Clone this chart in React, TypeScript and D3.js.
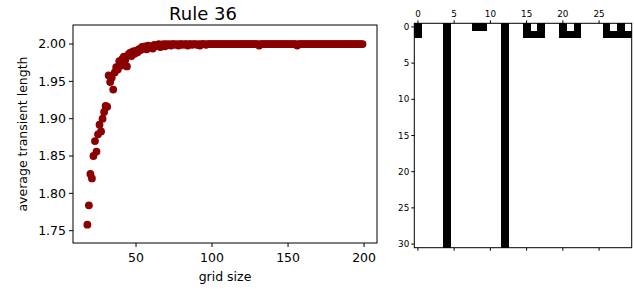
import * as d3 from "d3";

// grid sizes 18..199, one run per size
const gridSizes: number[] = d3.range(18, 200);

const avgTransient: number[] = [
  // 18 - 31
  1.758, 1.784, 1.826, 1.82, 1.85, 1.87, 1.856, 1.879, 1.892, 1.883, 1.9, 1.909, 1.917, 1.916,
  // 32 - 49
  1.958, 1.949, 1.955, 1.939, 1.962, 1.969, 1.966, 1.977, 1.971, 1.98, 1.983, 1.979, 1.97, 1.986,
  1.988, 1.984, 1.99, 1.987,
  // 50 - 69
  1.991, 1.989, 1.993, 1.992, 1.996, 1.994, 1.997, 1.993, 1.998, 1.996, 1.997, 1.994, 1.999, 1.997,
  1.998, 2.0, 1.996, 1.999, 2.0, 1.997,
  // 70 - 99
  2.0, 1.999, 2.0, 1.998, 2.0, 2.0, 1.999, 2.0, 1.998, 2.0, 2.0, 1.999, 2.0, 2.0, 1.998, 2.0, 2.0,
  1.999, 2.0, 2.0, 1.999, 2.0, 1.998, 2.0, 2.0, 2.0, 1.999, 2.0, 2.0, 2.0,
  // 100 - 199
  2.0, 2.0, 2.0, 2.0, 2.0, 2.0, 2.0, 2.0, 2.0, 2.0,
  2.0, 2.0, 2.0, 2.0, 2.0, 2.0, 2.0, 2.0, 2.0, 2.0,
  2.0, 2.0, 2.0, 2.0, 2.0, 2.0, 2.0, 2.0, 2.0, 2.0,
  2.0, 1.998, 2.0, 2.0, 2.0, 2.0, 2.0, 2.0, 2.0, 2.0,
  2.0, 2.0, 2.0, 2.0, 2.0, 2.0, 2.0, 2.0, 2.0, 2.0,
  2.0, 2.0, 2.0, 2.0, 2.0, 2.0, 1.998, 2.0, 2.0, 2.0,
  2.0, 2.0, 2.0, 2.0, 2.0, 2.0, 2.0, 2.0, 2.0, 2.0,
  2.0, 2.0, 2.0, 2.0, 2.0, 2.0, 2.0, 2.0, 2.0, 2.0,
  2.0, 2.0, 2.0, 2.0, 2.0, 2.0, 2.0, 2.0, 2.0, 2.0,
  2.0, 2.0, 2.0, 2.0, 2.0, 2.0, 2.0, 2.0, 2.0, 2.0,
];

const scatterXTicks = [50, 100, 150, 200];
const scatterYTicks = [1.75, 1.8, 1.85, 1.9, 1.95, 2.0];

// rule 36 evolution, 30 cells x 31 steps
const gridRows: string[] = [
  "100010001100100101001010001010",
  "100010000000100111001110001111",
  "000010000000100000000000000000",
  "000010000000100000000000000000",
  "000010000000100000000000000000",
  "000010000000100000000000000000",
  "000010000000100000000000000000",
  "000010000000100000000000000000",
  "000010000000100000000000000000",
  "000010000000100000000000000000",
  "000010000000100000000000000000",
  "000010000000100000000000000000",
  "000010000000100000000000000000",
  "000010000000100000000000000000",
  "000010000000100000000000000000",
  "000010000000100000000000000000",
  "000010000000100000000000000000",
  "000010000000100000000000000000",
  "000010000000100000000000000000",
  "000010000000100000000000000000",
  "000010000000100000000000000000",
  "000010000000100000000000000000",
  "000010000000100000000000000000",
  "000010000000100000000000000000",
  "000010000000100000000000000000",
  "000010000000100000000000000000",
  "000010000000100000000000000000",
  "000010000000100000000000000000",
  "000010000000100000000000000000",
  "000010000000100000000000000000",
  "000010000000100000000000000000",
];

const gridXTicks = [0, 5, 10, 15, 20, 25];
const gridYTicks = [0, 5, 10, 15, 20, 25, 30];

const FONT = "DejaVu Sans, sans-serif";

const App = () => {
  const width = 634;
  const height = 289;

  // left panel
  const left = 73;
  const right = 377;
  const top = 25;
  const bottom = 243;

  const xScale = d3.scaleLinear().domain([8.55, 208.5]).range([left, right]);
  const yScale = d3.scaleLinear().domain([1.7335, 2.0255]).range([bottom, top]);
  const fmt = d3.format(".2f");

  // right panel
  const nCols = gridRows[0].length;
  const nRows = gridRows.length;
  const gx = d3.scaleLinear().domain([-0.5, nCols - 0.5]).range([414.3, 631.7]);
  const gy = d3.scaleLinear().domain([-0.5, nRows - 0.5]).range([23.3, 247.7]);

  const cells: { r: number; c: number }[] = [];
  gridRows.forEach((row, r) =>
    row.split("").forEach((v, c) => {
      if (v === "1") cells.push({ r, c });
    })
  );

  return (
    <div style={{ position: "absolute", left: 0, top: 0 }}>
      <svg width={width} height={height} style={{ display: "block", background: "#fff" }}>
        {/* scatter */}
        <text x={203} y={20} textAnchor="middle" fontFamily={FONT} fontSize={18}>
          Rule 36
        </text>
        <g>
          {gridSizes.map((g, i) => (
            <circle key={g} cx={xScale(g)} cy={yScale(avgTransient[i])} r={3.9} fill="#8b0000" />
          ))}
        </g>
        <rect
          x={left}
          y={top}
          width={right - left}
          height={bottom - top}
          fill="none"
          stroke="#000"
          strokeWidth={1}
        />
        <g fontFamily={FONT} fontSize={12.5} fill="#000">
          {scatterXTicks.map((t) => (
            <g key={t} transform={`translate(${xScale(t)},${bottom})`}>
              <line y1={0} y2={4} stroke="#000" strokeWidth={1} />
              <text y={19} textAnchor="middle">
                {t}
              </text>
            </g>
          ))}
          {scatterYTicks.map((t) => (
            <g key={t} transform={`translate(${left},${yScale(t)})`}>
              <line x1={0} x2={-4} stroke="#000" strokeWidth={1} />
              <text x={-7} dy="0.35em" textAnchor="end">
                {fmt(t)}
              </text>
            </g>
          ))}
          <text x={(left + right) / 2} y={281} textAnchor="middle">
            grid size
          </text>
          <text transform={`translate(27,${(top + bottom) / 2}) rotate(-90)`} textAnchor="middle">
            average transient length
          </text>
        </g>

        {/* cellular automaton grid */}
        <g shapeRendering="crispEdges">
          {cells.map(({ r, c }) => (
            <rect
              key={`${r}-${c}`}
              x={gx(c - 0.5)}
              y={gy(r - 0.5)}
              width={gx(c + 0.5) - gx(c - 0.5) + 0.3}
              height={gy(r + 0.5) - gy(r - 0.5) + 0.3}
              fill="#000"
            />
          ))}
        </g>
        <rect
          x={gx(-0.5)}
          y={gy(-0.5)}
          width={gx(nCols - 0.5) - gx(-0.5)}
          height={gy(nRows - 0.5) - gy(-0.5)}
          fill="none"
          stroke="#000"
          strokeWidth={1}
        />
        <g fontFamily={FONT} fontSize={8.8} fill="#000">
          {gridXTicks.map((t) => (
            <g key={t} transform={`translate(${gx(t)},0)`}>
              <line y1={gy(-0.5)} y2={gy(-0.5) - 3} stroke="#000" strokeWidth={1} />
              <line y1={gy(nRows - 0.5)} y2={gy(nRows - 0.5) + 3} stroke="#000" strokeWidth={1} />
              <text y={gy(-0.5) - 6} textAnchor="middle">
                {t}
              </text>
            </g>
          ))}
          {gridYTicks.map((t) => (
            <g key={t} transform={`translate(${gx(-0.5)},${gy(t)})`}>
              <line x1={0} x2={-3} stroke="#000" strokeWidth={1} />
              <text x={-5} dy="0.35em" textAnchor="end">
                {t}
              </text>
            </g>
          ))}
        </g>
      </svg>
    </div>
  );
};

export default App;
